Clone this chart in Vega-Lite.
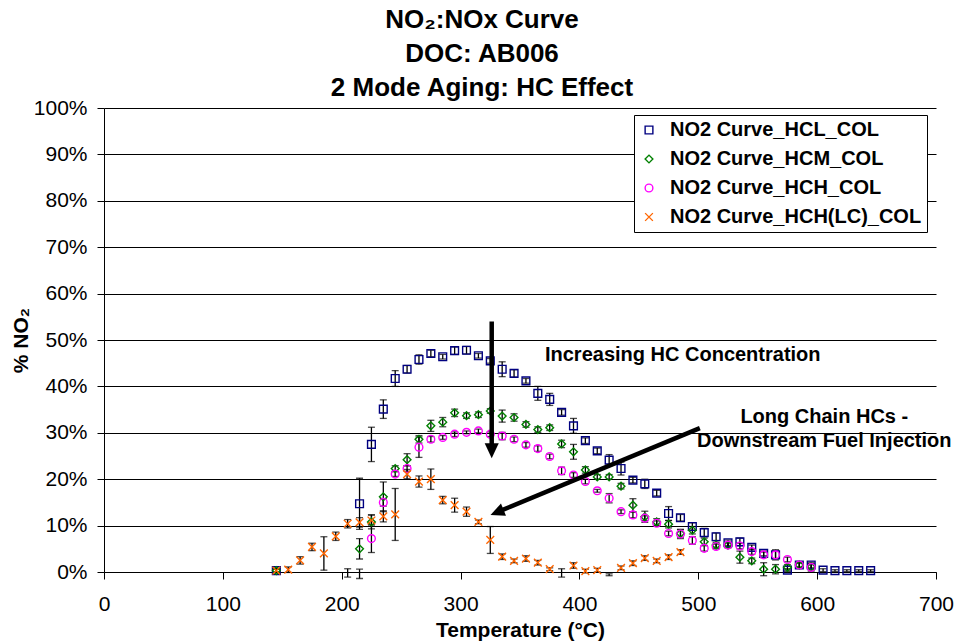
{
  "$schema": "https://vega.github.io/schema/vega-lite/v6.json",
  "width": 832,
  "height": 464,
  "autosize": {"type": "none"},
  "padding": {"left": 104, "top": 108, "right": 21, "bottom": 71},
  "background": "white",
  "config": {
    "font": "Liberation Sans",
    "view": {"stroke": null},
    "legend": {
      "orient": "none",
      "legendX": 530,
      "legendY": 7,
      "fillColor": "white",
      "strokeColor": "black",
      "strokeWidth": 1,
      "padding": 5,
      "rowPadding": 9,
      "labelFontSize": 20,
      "labelFontWeight": "bold",
      "labelColor": "black",
      "labelOffset": 11,
      "labelLimit": 0,
      "symbolSize": 60,
      "symbolStrokeWidth": 1.4,
      "cornerRadius": 0
    }
  },
  "title": {
    "text": ["NO₂:NOx Curve", "DOC: AB006", "2 Mode Aging: HC Effect"],
    "fontSize": 26,
    "fontWeight": "bold",
    "lineHeight": 34,
    "color": "black",
    "anchor": "middle",
    "offset": -4,
    "dx": -38
  },
  "datasets": {
    "curves": [
      {"s": "NO2 Curve_HCL_COL", "T": 145, "v": 0.3, "e": 0.4},
      {"s": "NO2 Curve_HCL_COL", "T": 205, "v": -0.2, "e": 0.9},
      {"s": "NO2 Curve_HCL_COL", "T": 215, "v": 14.7, "e": 5.5},
      {"s": "NO2 Curve_HCL_COL", "T": 225, "v": 27.5, "e": 3.7},
      {"s": "NO2 Curve_HCL_COL", "T": 235, "v": 35.1, "e": 2.0},
      {"s": "NO2 Curve_HCL_COL", "T": 245, "v": 41.7, "e": 1.7},
      {"s": "NO2 Curve_HCL_COL", "T": 255, "v": 43.7, "e": 0.8},
      {"s": "NO2 Curve_HCL_COL", "T": 265, "v": 45.8, "e": 1.0},
      {"s": "NO2 Curve_HCL_COL", "T": 275, "v": 47.1, "e": 0.7},
      {"s": "NO2 Curve_HCL_COL", "T": 285, "v": 46.4, "e": 0.5},
      {"s": "NO2 Curve_HCL_COL", "T": 295, "v": 47.7, "e": 0.8},
      {"s": "NO2 Curve_HCL_COL", "T": 305, "v": 47.8, "e": 0.8},
      {"s": "NO2 Curve_HCL_COL", "T": 315, "v": 46.6, "e": 0.5},
      {"s": "NO2 Curve_HCL_COL", "T": 325, "v": 45.5, "e": 0.5},
      {"s": "NO2 Curve_HCL_COL", "T": 335, "v": 43.7, "e": 1.6},
      {"s": "NO2 Curve_HCL_COL", "T": 345, "v": 42.8, "e": 0.8},
      {"s": "NO2 Curve_HCL_COL", "T": 355, "v": 41.2, "e": 0.5},
      {"s": "NO2 Curve_HCL_COL", "T": 365, "v": 38.5, "e": 1.5},
      {"s": "NO2 Curve_HCL_COL", "T": 375, "v": 37.2, "e": 1.3},
      {"s": "NO2 Curve_HCL_COL", "T": 385, "v": 34.4, "e": 0.6},
      {"s": "NO2 Curve_HCL_COL", "T": 395, "v": 31.5, "e": 1.6},
      {"s": "NO2 Curve_HCL_COL", "T": 405, "v": 28.3, "e": 0.6},
      {"s": "NO2 Curve_HCL_COL", "T": 415, "v": 26.1, "e": 0.6},
      {"s": "NO2 Curve_HCL_COL", "T": 425, "v": 24.1, "e": 1.2},
      {"s": "NO2 Curve_HCL_COL", "T": 435, "v": 22.3, "e": 1.4},
      {"s": "NO2 Curve_HCL_COL", "T": 445, "v": 19.8, "e": 0.6},
      {"s": "NO2 Curve_HCL_COL", "T": 455, "v": 19.0, "e": 1.0},
      {"s": "NO2 Curve_HCL_COL", "T": 465, "v": 17.0, "e": 0.6},
      {"s": "NO2 Curve_HCL_COL", "T": 475, "v": 12.6, "e": 1.5},
      {"s": "NO2 Curve_HCL_COL", "T": 485, "v": 11.7, "e": 0.7},
      {"s": "NO2 Curve_HCL_COL", "T": 495, "v": 9.8, "e": 0.8},
      {"s": "NO2 Curve_HCL_COL", "T": 505, "v": 8.5, "e": 0.9},
      {"s": "NO2 Curve_HCL_COL", "T": 515, "v": 7.6, "e": 0.8},
      {"s": "NO2 Curve_HCL_COL", "T": 525, "v": 6.3, "e": 0.6},
      {"s": "NO2 Curve_HCL_COL", "T": 535, "v": 6.5, "e": 0.8},
      {"s": "NO2 Curve_HCL_COL", "T": 545, "v": 5.3, "e": 0.5},
      {"s": "NO2 Curve_HCL_COL", "T": 555, "v": 4.0, "e": 0.5},
      {"s": "NO2 Curve_HCL_COL", "T": 565, "v": 3.7, "e": 1.1},
      {"s": "NO2 Curve_HCL_COL", "T": 575, "v": 0.4, "e": 0.3},
      {"s": "NO2 Curve_HCL_COL", "T": 585, "v": 1.5, "e": 0.5},
      {"s": "NO2 Curve_HCL_COL", "T": 595, "v": 1.5, "e": 0.6},
      {"s": "NO2 Curve_HCL_COL", "T": 605, "v": 0.4, "e": 0.3},
      {"s": "NO2 Curve_HCL_COL", "T": 615, "v": 0.3, "e": 0.2},
      {"s": "NO2 Curve_HCL_COL", "T": 625, "v": 0.3, "e": 0.2},
      {"s": "NO2 Curve_HCL_COL", "T": 635, "v": 0.3, "e": 0.2},
      {"s": "NO2 Curve_HCL_COL", "T": 645, "v": 0.3, "e": 0.2},

      {"s": "NO2 Curve_HCM_COL", "T": 145, "v": 0.3, "e": 0.3},
      {"s": "NO2 Curve_HCM_COL", "T": 215, "v": 5.0, "e": 2.2},
      {"s": "NO2 Curve_HCM_COL", "T": 225, "v": 10.8, "e": 1.5},
      {"s": "NO2 Curve_HCM_COL", "T": 235, "v": 16.2, "e": 3.2},
      {"s": "NO2 Curve_HCM_COL", "T": 245, "v": 22.3, "e": 0.6},
      {"s": "NO2 Curve_HCM_COL", "T": 255, "v": 24.2, "e": 1.3},
      {"s": "NO2 Curve_HCM_COL", "T": 265, "v": 28.6, "e": 0.8},
      {"s": "NO2 Curve_HCM_COL", "T": 275, "v": 31.5, "e": 1.2},
      {"s": "NO2 Curve_HCM_COL", "T": 285, "v": 32.3, "e": 1.0},
      {"s": "NO2 Curve_HCM_COL", "T": 295, "v": 34.3, "e": 0.8},
      {"s": "NO2 Curve_HCM_COL", "T": 305, "v": 33.7, "e": 0.6},
      {"s": "NO2 Curve_HCM_COL", "T": 315, "v": 33.9, "e": 0.6},
      {"s": "NO2 Curve_HCM_COL", "T": 325, "v": 34.7, "e": 0.5},
      {"s": "NO2 Curve_HCM_COL", "T": 335, "v": 33.6, "e": 1.3},
      {"s": "NO2 Curve_HCM_COL", "T": 345, "v": 33.3, "e": 0.8},
      {"s": "NO2 Curve_HCM_COL", "T": 355, "v": 31.8, "e": 0.6},
      {"s": "NO2 Curve_HCM_COL", "T": 365, "v": 30.7, "e": 0.6},
      {"s": "NO2 Curve_HCM_COL", "T": 375, "v": 31.1, "e": 0.6},
      {"s": "NO2 Curve_HCM_COL", "T": 385, "v": 27.6, "e": 0.8},
      {"s": "NO2 Curve_HCM_COL", "T": 395, "v": 25.9, "e": 1.6},
      {"s": "NO2 Curve_HCM_COL", "T": 405, "v": 22.0, "e": 0.7},
      {"s": "NO2 Curve_HCM_COL", "T": 415, "v": 20.5, "e": 0.5},
      {"s": "NO2 Curve_HCM_COL", "T": 425, "v": 20.5, "e": 0.5},
      {"s": "NO2 Curve_HCM_COL", "T": 435, "v": 18.5, "e": 0.6},
      {"s": "NO2 Curve_HCM_COL", "T": 445, "v": 14.4, "e": 1.4},
      {"s": "NO2 Curve_HCM_COL", "T": 455, "v": 11.9, "e": 1.2},
      {"s": "NO2 Curve_HCM_COL", "T": 465, "v": 10.8, "e": 0.7},
      {"s": "NO2 Curve_HCM_COL", "T": 475, "v": 10.3, "e": 0.8},
      {"s": "NO2 Curve_HCM_COL", "T": 485, "v": 8.3, "e": 0.8},
      {"s": "NO2 Curve_HCM_COL", "T": 495, "v": 9.0, "e": 0.8},
      {"s": "NO2 Curve_HCM_COL", "T": 505, "v": 6.5, "e": 0.8},
      {"s": "NO2 Curve_HCM_COL", "T": 515, "v": 5.8, "e": 0.6},
      {"s": "NO2 Curve_HCM_COL", "T": 525, "v": 5.8, "e": 0.6},
      {"s": "NO2 Curve_HCM_COL", "T": 535, "v": 3.2, "e": 1.3},
      {"s": "NO2 Curve_HCM_COL", "T": 545, "v": 2.4, "e": 0.6},
      {"s": "NO2 Curve_HCM_COL", "T": 555, "v": 0.6, "e": 1.4},
      {"s": "NO2 Curve_HCM_COL", "T": 565, "v": 0.6, "e": 1.0},
      {"s": "NO2 Curve_HCM_COL", "T": 575, "v": 1.0, "e": 0.6},
      {"s": "NO2 Curve_HCM_COL", "T": 585, "v": 1.5, "e": 0.5},
      {"s": "NO2 Curve_HCM_COL", "T": 595, "v": 1.1, "e": 0.6},

      {"s": "NO2 Curve_HCH_COL", "T": 215, "v": -0.4, "e": 1.0},
      {"s": "NO2 Curve_HCH_COL", "T": 225, "v": 7.2, "e": 3.0},
      {"s": "NO2 Curve_HCH_COL", "T": 235, "v": 15.0, "e": 0.8},
      {"s": "NO2 Curve_HCH_COL", "T": 245, "v": 21.1, "e": 0.5},
      {"s": "NO2 Curve_HCH_COL", "T": 255, "v": 22.3, "e": 0.6},
      {"s": "NO2 Curve_HCH_COL", "T": 265, "v": 26.9, "e": 2.2},
      {"s": "NO2 Curve_HCH_COL", "T": 275, "v": 28.6, "e": 0.6},
      {"s": "NO2 Curve_HCH_COL", "T": 285, "v": 29.0, "e": 0.4},
      {"s": "NO2 Curve_HCH_COL", "T": 295, "v": 29.7, "e": 0.5},
      {"s": "NO2 Curve_HCH_COL", "T": 305, "v": 30.1, "e": 0.3},
      {"s": "NO2 Curve_HCH_COL", "T": 315, "v": 30.4, "e": 0.4},
      {"s": "NO2 Curve_HCH_COL", "T": 325, "v": 29.7, "e": 0.5},
      {"s": "NO2 Curve_HCH_COL", "T": 335, "v": 29.3, "e": 0.8},
      {"s": "NO2 Curve_HCH_COL", "T": 345, "v": 28.6, "e": 0.5},
      {"s": "NO2 Curve_HCH_COL", "T": 355, "v": 27.4, "e": 0.5},
      {"s": "NO2 Curve_HCH_COL", "T": 365, "v": 26.6, "e": 0.6},
      {"s": "NO2 Curve_HCH_COL", "T": 375, "v": 24.9, "e": 0.5},
      {"s": "NO2 Curve_HCH_COL", "T": 385, "v": 21.8, "e": 0.8},
      {"s": "NO2 Curve_HCH_COL", "T": 395, "v": 20.9, "e": 0.5},
      {"s": "NO2 Curve_HCH_COL", "T": 405, "v": 19.5, "e": 0.5},
      {"s": "NO2 Curve_HCH_COL", "T": 415, "v": 17.5, "e": 0.3},
      {"s": "NO2 Curve_HCH_COL", "T": 425, "v": 15.9, "e": 1.0},
      {"s": "NO2 Curve_HCH_COL", "T": 435, "v": 13.0, "e": 0.4},
      {"s": "NO2 Curve_HCH_COL", "T": 445, "v": 12.3, "e": 0.6},
      {"s": "NO2 Curve_HCH_COL", "T": 455, "v": 11.6, "e": 0.5},
      {"s": "NO2 Curve_HCH_COL", "T": 465, "v": 10.5, "e": 0.5},
      {"s": "NO2 Curve_HCH_COL", "T": 475, "v": 8.3, "e": 0.5},
      {"s": "NO2 Curve_HCH_COL", "T": 485, "v": 8.2, "e": 1.0},
      {"s": "NO2 Curve_HCH_COL", "T": 495, "v": 6.8, "e": 0.8},
      {"s": "NO2 Curve_HCH_COL", "T": 505, "v": 5.1, "e": 0.6},
      {"s": "NO2 Curve_HCH_COL", "T": 515, "v": 5.5, "e": 0.5},
      {"s": "NO2 Curve_HCH_COL", "T": 525, "v": 5.8, "e": 0.5},
      {"s": "NO2 Curve_HCH_COL", "T": 535, "v": 5.6, "e": 0.6},
      {"s": "NO2 Curve_HCH_COL", "T": 545, "v": 4.4, "e": 0.6},
      {"s": "NO2 Curve_HCH_COL", "T": 555, "v": 3.7, "e": 0.6},
      {"s": "NO2 Curve_HCH_COL", "T": 565, "v": 3.7, "e": 0.8},
      {"s": "NO2 Curve_HCH_COL", "T": 575, "v": 2.7, "e": 0.5},
      {"s": "NO2 Curve_HCH_COL", "T": 585, "v": 1.5, "e": 0.5},
      {"s": "NO2 Curve_HCH_COL", "T": 595, "v": 1.0, "e": 0.8},

      {"s": "NO2 Curve_HCH(LC)_COL", "T": 145, "v": 0.3, "e": 0.4},
      {"s": "NO2 Curve_HCH(LC)_COL", "T": 155, "v": 0.5, "e": 0.6},
      {"s": "NO2 Curve_HCH(LC)_COL", "T": 165, "v": 2.5, "e": 0.8},
      {"s": "NO2 Curve_HCH(LC)_COL", "T": 175, "v": 5.4, "e": 0.8},
      {"s": "NO2 Curve_HCH(LC)_COL", "T": 185, "v": 4.0, "e": 3.6},
      {"s": "NO2 Curve_HCH(LC)_COL", "T": 195, "v": 7.7, "e": 0.9},
      {"s": "NO2 Curve_HCH(LC)_COL", "T": 205, "v": 10.4, "e": 0.9},
      {"s": "NO2 Curve_HCH(LC)_COL", "T": 215, "v": 10.7, "e": 1.0},
      {"s": "NO2 Curve_HCH(LC)_COL", "T": 225, "v": 11.1, "e": 1.2},
      {"s": "NO2 Curve_HCH(LC)_COL", "T": 235, "v": 12.0, "e": 1.2},
      {"s": "NO2 Curve_HCH(LC)_COL", "T": 245, "v": 12.4, "e": 5.6},
      {"s": "NO2 Curve_HCH(LC)_COL", "T": 255, "v": 21.1, "e": 1.0},
      {"s": "NO2 Curve_HCH(LC)_COL", "T": 265, "v": 19.5, "e": 1.2},
      {"s": "NO2 Curve_HCH(LC)_COL", "T": 275, "v": 20.0, "e": 2.2},
      {"s": "NO2 Curve_HCH(LC)_COL", "T": 285, "v": 15.5, "e": 0.8},
      {"s": "NO2 Curve_HCH(LC)_COL", "T": 295, "v": 14.4, "e": 1.5},
      {"s": "NO2 Curve_HCH(LC)_COL", "T": 305, "v": 13.0, "e": 1.0},
      {"s": "NO2 Curve_HCH(LC)_COL", "T": 315, "v": 10.8, "e": 0.4},
      {"s": "NO2 Curve_HCH(LC)_COL", "T": 325, "v": 6.9, "e": 2.9},
      {"s": "NO2 Curve_HCH(LC)_COL", "T": 335, "v": 3.3, "e": 0.6},
      {"s": "NO2 Curve_HCH(LC)_COL", "T": 345, "v": 2.4, "e": 0.4},
      {"s": "NO2 Curve_HCH(LC)_COL", "T": 355, "v": 2.9, "e": 0.6},
      {"s": "NO2 Curve_HCH(LC)_COL", "T": 365, "v": 2.0, "e": 0.5},
      {"s": "NO2 Curve_HCH(LC)_COL", "T": 375, "v": 0.6, "e": 0.3},
      {"s": "NO2 Curve_HCH(LC)_COL", "T": 385, "v": -0.2, "e": 0.9},
      {"s": "NO2 Curve_HCH(LC)_COL", "T": 395, "v": 1.4, "e": 0.6},
      {"s": "NO2 Curve_HCH(LC)_COL", "T": 405, "v": 0.2, "e": 0.4},
      {"s": "NO2 Curve_HCH(LC)_COL", "T": 415, "v": 0.4, "e": 0.4},
      {"s": "NO2 Curve_HCH(LC)_COL", "T": 425, "v": -0.6, "e": 0.2},
      {"s": "NO2 Curve_HCH(LC)_COL", "T": 435, "v": 0.9, "e": 0.4},
      {"s": "NO2 Curve_HCH(LC)_COL", "T": 445, "v": 1.9, "e": 0.5},
      {"s": "NO2 Curve_HCH(LC)_COL", "T": 455, "v": 3.0, "e": 0.5},
      {"s": "NO2 Curve_HCH(LC)_COL", "T": 465, "v": 2.4, "e": 0.4},
      {"s": "NO2 Curve_HCH(LC)_COL", "T": 475, "v": 3.2, "e": 0.5},
      {"s": "NO2 Curve_HCH(LC)_COL", "T": 485, "v": 4.3, "e": 0.5}
    ],
    "shafts": [
      {"name": "down", "T": 326.2, "v": 54.0, "T2": 326.2, "v2": 26.4},
      {"name": "diag", "T": 501.3, "v": 31.0, "T2": 331.8, "v2": 13.0}
    ],
    "heads": [
      {"name": "down", "T": 326.2, "v": 24.5},
      {"name": "diag", "T": 325.2, "v": 12.3}
    ],
    "notes": [
      {"name": "hc", "T": 371, "v": 46.8, "label": "Increasing HC Concentration"},
      {"name": "lc", "T": 606, "v": 33.3, "label": "Long Chain HCs -\nDownstream Fuel Injection"}
    ]
  },
  "encoding": {
    "x": {
      "field": "T",
      "type": "quantitative",
      "scale": {"domain": [0, 700], "nice": false, "zero": false},
      "axis": {
        "title": "Temperature (°C)",
        "values": [0, 100, 200, 300, 400, 500, 600, 700],
        "grid": false,
        "domainColor": "black",
        "domainWidth": 1,
        "tickColor": "black",
        "tickSize": 7,
        "tickWidth": 1,
        "labelFontSize": 21,
        "labelColor": "black",
        "labelPadding": 14,
        "labelFlush": false,
        "titleFontSize": 21,
        "titleFontWeight": "bold",
        "titleColor": "black",
        "titleX": 416,
        "titleY": 58,
        "titleBaseline": "middle",
        "titleAlign": "center"
      }
    },
    "y": {
      "field": "v",
      "type": "quantitative",
      "scale": {"domain": [0, 100], "nice": false, "zero": false},
      "axis": {
        "title": "% NO₂",
        "values": [0, 10, 20, 30, 40, 50, 60, 70, 80, 90, 100],
        "labelExpr": "datum.value + '%'",
        "grid": true,
        "gridColor": "black",
        "gridWidth": 1,
        "gridOpacity": 1,
        "domainColor": "black",
        "domainWidth": 1,
        "tickColor": "black",
        "tickSize": 7,
        "tickWidth": 1,
        "labelFontSize": 21,
        "labelColor": "black",
        "labelPadding": 10,
        "labelFlush": false,
        "titleFontSize": 21,
        "titleFontWeight": "bold",
        "titleColor": "black",
        "titleAngle": 270,
        "titleX": -83,
        "titleY": 232,
        "titleBaseline": "middle",
        "titleAlign": "center"
      }
    }
  },
  "layer": [
    {
      "data": {"name": "curves"},
      "mark": {"type": "errorbar", "ticks": true, "size": 7, "thickness": 1.3, "color": "black"},
      "encoding": {
        "yError": {"field": "e"}
      }
    },
    {
      "data": {"name": "curves"},
      "transform": [{"filter": "datum.v >= 0"}],
      "mark": {"type": "point", "filled": false, "strokeWidth": 1.4, "size": 60, "opacity": 1},
      "encoding": {
        "color": {
          "field": "s",
          "type": "nominal",
          "scale": {
            "domain": ["NO2 Curve_HCL_COL", "NO2 Curve_HCM_COL", "NO2 Curve_HCH_COL", "NO2 Curve_HCH(LC)_COL"],
            "range": ["#000080", "#008000", "#FF00FF", "#FF6600"]
          },
          "legend": {"title": null}
        },
        "shape": {
          "field": "s",
          "type": "nominal",
          "scale": {
            "domain": ["NO2 Curve_HCL_COL", "NO2 Curve_HCM_COL", "NO2 Curve_HCH_COL", "NO2 Curve_HCH(LC)_COL"],
            "range": ["square", "diamond", "circle", "M-1,-1L1,1M1,-1L-1,1"]
          },
          "legend": {"title": null}
        }
      }
    },
    {
      "data": {"name": "shafts"},
      "mark": {"type": "rule", "color": "black", "strokeWidth": 4.5, "strokeCap": "butt"},
      "encoding": {
        "x2": {"field": "T2"},
        "y2": {"field": "v2"}
      }
    },
    {
      "data": {"name": "heads"},
      "transform": [{"filter": "datum.name == 'down'"}],
      "mark": {"type": "point", "shape": "M0,0L-0.47,-1L0.47,-1Z", "filled": true, "color": "black", "size": 900, "opacity": 1, "angle": 0}
    },
    {
      "data": {"name": "heads"},
      "transform": [{"filter": "datum.name == 'diag'"}],
      "mark": {"type": "point", "shape": "M0,0L-0.47,-1L0.47,-1Z", "filled": true, "color": "black", "size": 784, "opacity": 1, "angle": 67.7}
    },
    {
      "data": {"name": "notes"},
      "transform": [{"filter": "datum.name == 'hc'"}],
      "mark": {"type": "text", "align": "left", "baseline": "middle", "fontSize": 20, "fontWeight": "bold", "color": "black"},
      "encoding": {"text": {"field": "label"}}
    },
    {
      "data": {"name": "notes"},
      "transform": [{"filter": "datum.name == 'lc'"}],
      "mark": {"type": "text", "align": "center", "baseline": "middle", "fontSize": 20, "fontWeight": "bold", "color": "black", "lineBreak": "\n", "lineHeight": 24},
      "encoding": {"text": {"field": "label"}}
    }
  ]
}
